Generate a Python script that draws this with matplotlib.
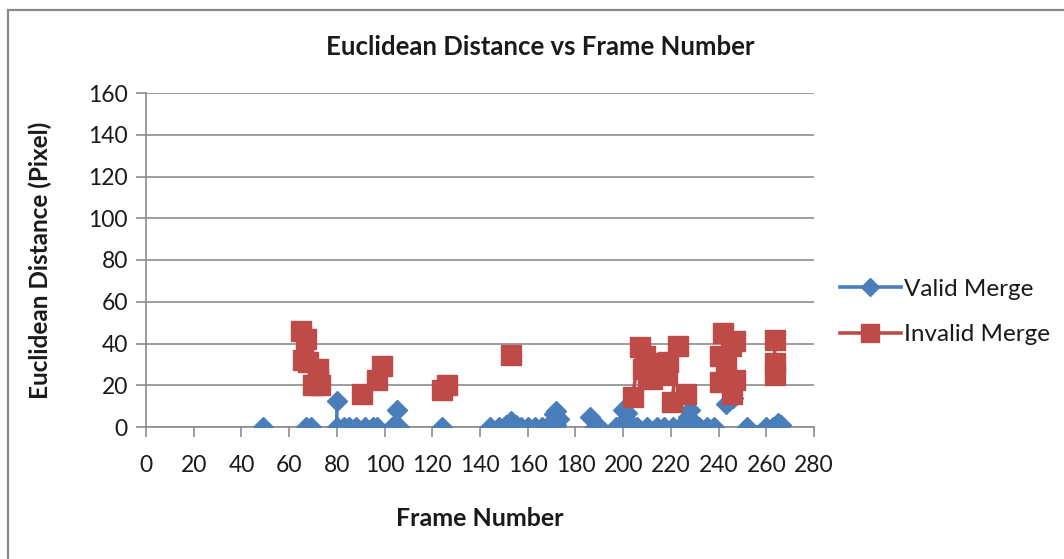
import numpy as np
import matplotlib
matplotlib.use("Agg")
import matplotlib.pyplot as plt
from matplotlib.patches import Rectangle

nan = np.nan

# Valid merges (frame number, euclidean distance); NaN separates line segments
valid_frame = [49, nan,
               67, 69, nan,
               80, 80, 83, 85, 88, 92, 95, 97, nan,
               103, 105, 106, nan,
               124, nan,
               144, 148, 151, 153, 155, 157, 160, 163, 166, 168, 170, 171, 172, 173, 172, nan,
               186, 188, 190, 197, 200, 201.5, 202, 204, 206, 210, 214, 217, 221, 224, 227, 228, 229, 232, 235, 238, nan,
               243, 246, nan,
               252, 260, 263, 265, 266]
valid_dist = [0, nan,
              0, 0, nan,
              12.5, 0, 0, 0, 0, 0, 0, 0, nan,
              0, 8, 0, nan,
              0, nan,
              0, 0, 1, 3, 1, 0, 0, 0, 0, 0, 2, 6, 7.5, 4, 1, nan,
              5, 0, 0, 0, 8, 6.5, 3, 0, 0, 0, 0, 0, 0, 0, 5, 8, 3, 0, 0, 0, nan,
              11, 14, nan,
              0, 0, 0, 2, 1]

# Invalid merges
invalid_frame = [65, 67, 66, 68, 72, 72, 70, 73, nan,
                 90.5, nan,
                 97, 99, nan,
                 124, 126, nan,
                 153, nan,
                 204, 207, 209, 208.5, 210.5, 212, 217, 218.5, 219, 223, 220.5, 226.5, nan,
                 242, 247, 245, 240.5, 243, 240.5, 247, 245.5, nan,
                 263.5, 263.5, 263.5]
invalid_dist = [46, 42, 32, 31, 28, 23, 20, 20, nan,
                16, nan,
                22.5, 29, nan,
                17.5, 20, nan,
                34.5, nan,
                14.5, 38.5, 34, 28, 24, 23, 30.5, 25, 31, 39, 12, 16, nan,
                45, 41, 39, 34, 30, 21.5, 22.5, 16, nan,
                41.7, 30.5, 25]

x_ticks = list(range(0, 281, 20))
y_ticks = list(range(0, 161, 20))

title = "Euclidean Distance vs Frame Number"
xlabel = "Frame Number"
ylabel = "Euclidean Distance (Pixel)"
series_names = ["Valid Merge", "Invalid Merge"]

blue = "#4A7EBB"
red = "#BE4B48"
grid_c = "#8C8C8C"
text_c = "#1a1a1a"

plt.rcParams['font.family'] = ['Lato', 'DejaVu Sans']

W, H = 1064, 559
fig = plt.figure(figsize=(W / 100, H / 100), dpi=100)

# outer chart border (left and top visible)
fig.add_artist(Rectangle((8 / W, -0.5), 2.0, 1.5 - 10 / H, transform=fig.transFigure,
                         fill=False, edgecolor="#8a8a8a", linewidth=1.6))

ax = fig.add_axes([146 / W, 1 - 427 / H, (814 - 146) / W, (427 - 93) / H])

ax.plot(valid_frame, valid_dist, color=blue, lw=2.6, marker="D", ms=10.5,
        mec=blue, mfc=blue, label=series_names[0], zorder=3)
ax.plot(invalid_frame, invalid_dist, color=red, lw=2.6, marker="s", ms=14.5,
        mec=red, mfc=red, label=series_names[1], zorder=4)

ax.set_xlim(0, 280)
ax.set_ylim(0, 160)
ax.set_xticks(x_ticks)
ax.set_yticks(y_ticks)
ax.yaxis.grid(True, color=grid_c, lw=1.2)
ax.set_axisbelow(True)
for s in ["top", "right"]:
    ax.spines[s].set_visible(False)
for s in ["left", "bottom"]:
    ax.spines[s].set_color(grid_c)
    ax.spines[s].set_linewidth(1.2)
ax.tick_params(axis="both", direction="out", color=grid_c, width=1.2, length=7,
               labelsize=16.5, labelcolor=text_c)
ax.tick_params(axis="x", pad=13)
ax.tick_params(axis="y", pad=6)

fig.text(540 / W, 1 - 47 / H, title, ha="center", va="center",
         fontsize=18.5, fontweight="bold", color=text_c)
fig.text(480 / W, 1 - 518 / H, xlabel, ha="center", va="center",
         fontsize=18, fontweight="bold", color=text_c)
fig.text(40 / W, 1 - 260 / H, ylabel, ha="center", va="center", rotation=90,
         fontsize=17.5, fontweight="bold", color=text_c)

leg = fig.legend(loc="center left", bbox_to_anchor=(840 / W, 1 - 312 / H),
                 frameon=False, fontsize=17.5, handlelength=2.5, handletextpad=0.15,
                 labelspacing=1.0, borderaxespad=0, borderpad=0)
for t in leg.get_texts():
    t.set_color(text_c)
for h in leg.legend_handles:
    h.set_markersize(h.get_markersize() * 0.85)

fig.savefig("out.png", dpi=100)
